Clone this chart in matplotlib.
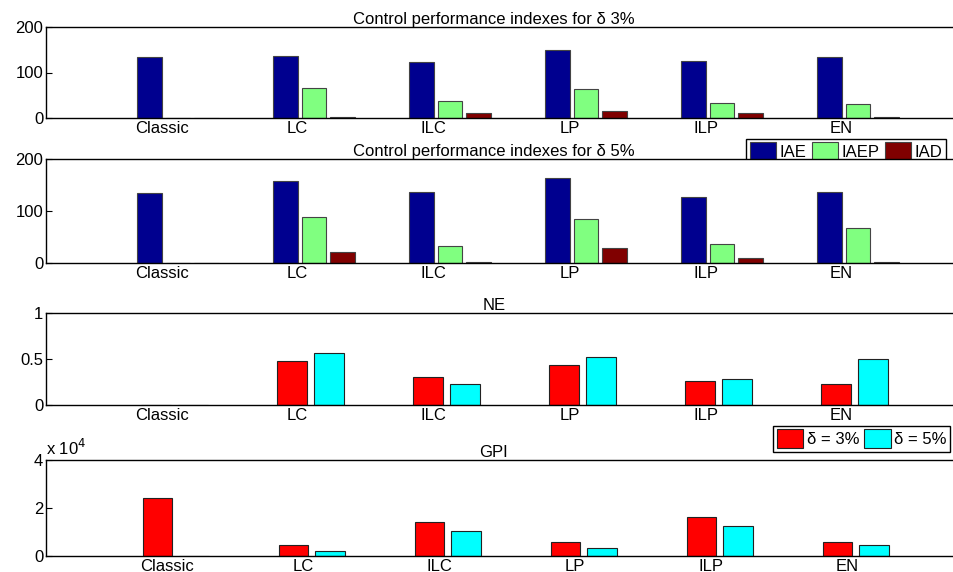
import matplotlib
matplotlib.use("Agg")
import matplotlib.pyplot as plt
import numpy as np

plt.rcParams['font.family'] = ['Liberation Sans', 'DejaVu Sans']
plt.rcParams['font.size'] = 12

categories = ["Classic", "LC", "ILC", "LP", "ILP", "EN"]
iae3 = [135, 137, 124, 150, 126, 135]
iaep3 = [0, 66, 38, 64, 33, 31]
iad3 = [0, 2, 10, 16, 10, 2]
iae5 = [135, 157, 137, 163, 127, 137]
iaep5 = [0, 88, 33, 85, 36, 67]
iad5 = [0, 22, 2, 28, 9, 2]
ne3 = [0, 0.48, 0.30, 0.43, 0.26, 0.23]
ne5 = [0, 0.56, 0.23, 0.52, 0.28, 0.50]
gpi3 = [2.42, 0.45, 1.40, 0.60, 1.62, 0.57]
gpi5 = [0, 0.22, 1.03, 0.35, 1.25, 0.46]

W, H = 954, 572
fig = plt.figure(figsize=(W/100, H/100), dpi=100)
right = 1010
rows = [(27, 118), (159, 263), (313, 405), (460, 556)]
axes = []
for t, b in rows:
    ax = fig.add_axes([46/W, 1-b/H, (right-46)/W, (b-t)/H])
    axes.append(ax)

x = np.arange(1, 7)
cols3 = ['#00008f', '#80ff80', '#800000']
def style(ax, ylim, yt, title, tickoff):
    ax.set_xlim(-0.01, (right-46)/136 - 0.01)
    ax.set_ylim(*ylim)
    ax.set_yticks(yt)
    ax.set_xticks(x + tickoff)
    ax.set_xticklabels(categories)
    ax.tick_params(direction='in', right=True, top=False, length=4, pad=2, labelsize=12)
    ax.tick_params(axis='x', length=0)
    ax.set_title(title, fontsize=12, pad=2, x=(494-46)/(right-46))
    for s in ax.spines.values():
        s.set_linewidth(1.0)

w = 0.18
for ax, vals, title in [(axes[0], (iae3, iaep3, iad3), 'Control performance indexes for δ 3%'),
                        (axes[1], (iae5, iaep5, iad5), 'Control performance indexes for δ 5%')]:
    bars = []
    for i, (v, c) in enumerate(zip(vals, cols3)):
        bars.append(ax.bar(x + (i-1)*0.21 - 0.04, v, w, color=c, edgecolor='#444444', linewidth=0.8))
    style(ax, (0, 200), [0, 100, 200], title, -0.16)
axes[0].legend([b[0] for b in bars], ['IAE', 'IAEP', 'IAD'], ncol=3,
               loc='lower left', bbox_to_anchor=(738/W, 1-173/H), bbox_transform=fig.transFigure,
               fancybox=False, edgecolor='black', framealpha=1, handlelength=1.6, handleheight=1.4,
               handletextpad=0.2, columnspacing=0.3, borderpad=0.2, fontsize=12)

w2 = 0.22
cols2 = ['#ff0000', '#00ffff']
b1 = axes[2].bar(x - 0.2, ne3, w2, color=cols2[0], edgecolor='#222222', linewidth=0.8)
b2 = axes[2].bar(x + 0.07, ne5, w2, color=cols2[1], edgecolor='#222222', linewidth=0.8)
style(axes[2], (0, 1), [0, 0.5, 1], 'NE', -0.16)
axes[2].set_yticklabels(['0', '0.5', '1'])

axes[3].bar(x - 0.19, gpi3, w2, color=cols2[0], edgecolor='#222222', linewidth=0.8)
axes[3].bar(x + 0.08, gpi5, w2, color=cols2[1], edgecolor='#222222', linewidth=0.8)
style(axes[3], (0, 4), [0, 2, 4], 'GPI', -0.12)
axes[3].text(0.0, 1.02, r'x 10$^4$', transform=axes[3].transAxes, fontsize=12, va='bottom')
axes[3].legend([b1, b2], ['δ = 3%', 'δ = 5%'], ncol=2,
               loc='lower left', bbox_to_anchor=(765/W, 1-460/H), bbox_transform=fig.transFigure,
               fancybox=False, edgecolor='black', framealpha=1, handlelength=1.6, handleheight=1.4,
               handletextpad=0.2, columnspacing=0.3, borderpad=0.2, fontsize=12)

fig.savefig('out.png', dpi=100)
